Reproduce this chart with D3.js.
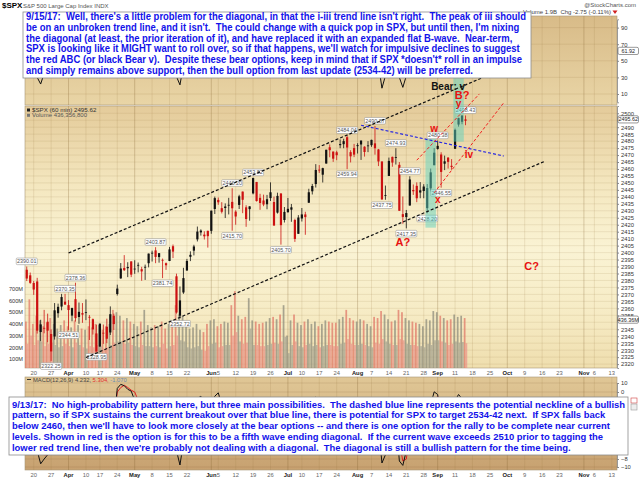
<!DOCTYPE html>
<html>
<head>
<meta charset="utf-8">
<script src="https://cdn.jsdelivr.net/npm/d3@7"></script>
<style>
body { margin: 0; background: #fff; }
svg { display: block; font-family: "Liberation Sans", Arial, sans-serif; }
</style>
</head>
<body>
<svg id="chart" width="640" height="479"></svg>
<script>
// ---- data: one candle per trading day, Mar 16 .. Sep 14 2017 ----
var opens = [
  2387.7,2383.7,2378.2,2379.3,2343.0,2345.9,2350.4,2329.1,2339.8,2356.5,2361.3,2364.8,
  2362.3,2354.8,2366.6,2353.8,2356.6,2357.2,2353.9,2352.2,2342.0,2332.6,2342.5,2346.8,2342.7,2354.7,2370.3,2381.5,2389.0,2389.7,2393.7,
  2388.5,2391.1,2386.5,2389.8,2392.4,2399.9,2401.6,2396.8,2394.8,2392.4,2394.0,2404.6,2383.0,2354.7,2371.4,2387.2,2397.0,2401.4,2409.5,2414.5,2411.7,2415.6,
  2415.6,2431.3,2437.8,2431.9,2432.0,2434.3,2436.4,2425.9,2434.2,2443.8,2424.1,2431.2,2442.5,2450.7,2439.3,2437.4,2434.7,2443.3,2436.3,2428.7,2442.4,2429.2,
  2431.4,2430.8,2423.4,2413.5,2424.5,2427.4,2435.8,2444.0,2449.2,2459.5,2455.9,2463.9,2475.6,2467.4,2472.0,2477.9,2480.0,2482.8,2469.1,2475.0,
  2477.1,2480.4,2476.0,2476.9,2477.1,2478.4,2465.4,2465.4,2441.0,2455.0,2468.7,2468.6,2463.0,2427.6,2425.5,2433.8,2444.9,2447.9,2444.7,2447.4,2431.9,2446.1,2462.7,
  2474.4,2470.4,2463.8,2468.1,2462.3,2474.5,2491.9,2493.9,2494.6
];
var highs = [
  2390.0,2385.7,2379.6,2381.9,2351.8,2358.9,2356.2,2344.9,2363.8,2363.4,2370.4,2370.4,
  2365.9,2360.5,2378.4,2364.2,2363.8,2366.4,2355.2,2352.7,2348.3,2349.1,2348.4,2352.6,2361.4,2356.2,2377.0,2392.5,2398.2,2393.1,2393.7,
  2394.5,2392.9,2389.8,2391.4,2399.3,2401.4,2403.9,2399.7,2395.7,2392.9,2404.1,2405.8,2384.9,2375.7,2389.1,2395.5,2400.9,2405.6,2418.7,2416.7,2415.3,2415.8,
  2430.1,2440.2,2439.5,2436.2,2435.3,2439.3,2446.2,2430.4,2441.5,2443.8,2434.0,2433.2,2453.8,2450.7,2442.2,2441.6,2441.4,2450.4,2440.2,2443.0,2442.7,2432.7,
  2439.2,2434.9,2424.3,2426.9,2432.0,2429.3,2445.8,2449.3,2463.5,2462.8,2460.9,2473.8,2477.6,2472.5,2473.1,2481.2,2481.7,2484.0,2473.5,2478.0,
  2478.5,2480.4,2476.3,2480.0,2481.0,2490.9,2474.4,2465.4,2448.1,2468.2,2468.9,2474.9,2465.0,2440.3,2430.6,2454.8,2448.9,2450.4,2450.6,2449.1,2449.2,2460.3,2475.0,
  2480.4,2472.0,2469.6,2468.6,2467.1,2489.0,2496.8,2498.4,2498.4
];
var lows = [
  2379.6,2377.6,2369.7,2341.9,2336.5,2342.1,2335.7,2322.3,2337.6,2353.3,2358.6,2362.6,
  2344.5,2350.7,2350.5,2348.9,2349.6,2351.5,2337.3,2341.2,2329.0,2332.5,2334.5,2335.1,2340.9,2344.5,2369.2,2381.2,2386.8,2382.4,2382.4,
  2384.8,2385.8,2379.8,2380.4,2389.4,2393.6,2392.4,2392.8,2381.7,2387.6,2393.9,2396.1,2356.2,2352.7,2370.4,2386.9,2393.9,2398.0,2408.0,2412.2,2409.4,2403.6,
  2413.5,2427.7,2434.3,2428.1,2424.8,2427.4,2415.7,2420.0,2431.3,2428.3,2418.5,2422.9,2441.8,2436.6,2430.7,2433.3,2431.1,2437.0,2419.4,2428.0,2405.7,2421.6,
  2428.7,2422.1,2407.7,2413.5,2422.3,2412.8,2435.6,2441.7,2446.7,2457.2,2450.3,2463.9,2468.4,2465.1,2466.3,2474.9,2474.9,2459.9,2464.7,2468.5,
  2471.1,2466.5,2468.9,2472.1,2475.9,2470.3,2462.1,2437.8,2437.9,2455.0,2461.6,2463.2,2430.0,2420.7,2417.4,2433.7,2441.4,2436.2,2439.0,2439.0,2428.2,2443.8,2462.7,
  2473.9,2446.6,2459.2,2460.3,2459.4,2474.5,2490.4,2492.1,2491.4
];
var closes = [
  2381.4,2378.3,2373.5,2344.0,2348.5,2346.0,2344.0,2341.6,2358.6,2361.1,2368.1,2362.7,
  2358.8,2360.2,2353.0,2357.5,2355.5,2357.2,2353.8,2344.9,2329.0,2349.0,2342.2,2338.2,2355.8,2348.7,2374.2,2388.6,2387.4,2388.8,2384.2,
  2388.3,2391.2,2388.1,2389.5,2399.3,2399.4,2396.9,2399.6,2394.4,2390.9,2402.3,2400.7,2357.0,2365.7,2381.7,2394.0,2398.4,2404.4,2415.1,2415.8,2412.9,2411.8,
  2430.1,2439.1,2436.1,2429.3,2433.1,2433.8,2431.8,2429.4,2440.4,2437.9,2432.5,2433.2,2453.5,2437.0,2435.6,2434.5,2438.3,2439.1,2419.4,2440.7,2419.7,2423.4,
  2429.0,2432.5,2409.8,2425.2,2427.4,2425.5,2443.3,2447.8,2459.3,2459.1,2460.6,2473.8,2473.5,2472.5,2469.9,2477.1,2477.8,2475.4,2472.1,2470.3,
  2476.4,2477.6,2472.2,2476.8,2480.9,2474.9,2474.0,2438.2,2441.3,2465.8,2464.6,2468.1,2430.0,2425.6,2428.4,2452.5,2444.0,2439.0,2443.1,2444.2,2446.3,2457.6,2471.7,
  2476.6,2457.9,2465.5,2465.1,2461.4,2488.1,2496.5,2498.4,2495.6
];
// hourly volume, millions: busiest hour and a quiet hour of each day
var volHi = [
  420,610,400,470,430,380,410,450,400,360,390,430,
  380,370,430,390,360,350,380,370,400,390,350,380,400,520,500,470,430,450,420,
  400,380,420,520,390,370,390,380,420,360,400,410,560,480,470,380,360,370,400,350,330,400,
  430,440,380,400,420,410,560,680,470,440,460,620,430,420,400,410,420,450,460,440,480,560,
  300,430,480,410,390,420,440,400,420,380,400,430,420,410,410,440,460,520,450,430,
  420,440,430,400,380,460,450,510,480,440,420,430,520,500,450,430,420,410,400,380,440,430,510,
  500,470,450,430,440,480,460,470,450
];
var volLo = [
  230,300,220,260,250,210,230,240,220,200,210,230,
  210,200,240,220,200,190,210,200,220,210,190,200,220,240,250,250,230,240,220,
  210,200,220,210,210,200,210,200,230,190,210,220,300,260,250,200,190,200,210,180,170,210,
  230,240,200,210,220,220,300,330,250,230,240,360,220,220,210,210,220,230,240,230,250,290,
  150,220,250,210,200,220,230,210,220,200,210,220,220,210,210,230,240,270,230,220,
  220,230,220,210,200,240,230,270,250,230,220,220,270,260,230,220,220,210,210,200,230,220,260,
  260,250,240,220,230,250,240,245,235
];
var rsi = [
  48,40,38,30,22,35,33,38,55,56,60,50,
  45,50,45,46,44,46,38,36,32,50,44,40,52,45,68,75,70,62,55,
  55,58,50,54,62,60,58,56,46,48,62,58,31,21,45,60,63,66,72,68,58,55,
  70,74,62,46,52,54,44,40,58,54,44,50,72,42,44,43,50,52,33,55,32,38,
  48,50,31,52,55,48,68,70,75,68,66,74,66,64,60,68,66,40,44,45,
  56,58,48,56,62,58,46,17,32,66,60,62,30,18,32,65,48,40,46,48,52,66,74,
  70,38,54,53,47,76,78,70,62
];
var macd = [
  -2,-3,-4,-7,-9.2,-8,-7.5,-6,-4,-3,-2,-2.5,
  -3,-3,-2.5,-3,-3,-3,-4,-4.5,-6,-5,-4.5,-4.5,-3,-3.5,4,8.5,7,3,1,
  -1,-1.5,-2,-2,-1,-1.5,-1.5,-2,-2.5,-2.5,-1.5,-2,-7,-9.5,-6,-3,-2,-1.5,-0.8,-0.5,-1.5,-2,
  -1.2,-0.5,-0.1,-1.5,-2,-2.5,-4,-4.5,-3,-3,-4,-3.5,-1,-3,-3.5,-3.5,-3,-3,-5,-4,-6,-5,
  -4,-4.5,-6.5,-5,-4,-4.5,-2,-1.2,-0.6,-1,-1.5,-0.8,-1,-1.5,-2,-1.2,-1.5,-3,-3.5,-3.5,
  -3,-3,-3.5,-3,-2.5,-3,-4,-9,-7.5,-3,-3.5,-3,-8.5,-9.6,-7,-3,-3.5,-4,-4,-4,-3.5,-1.5,0.2,
  -0.3,-3.5,-3,-3,-3.5,-1,-0.3,-0.8,-1.5
];
var signal = [
  -1.5,-2,-3,-4.5,-6.5,-7.5,-7.5,-7,-5.5,-4,-3,-2.5,
  -2.5,-3,-2.8,-2.9,-3,-3,-3.5,-4,-5,-5,-4.8,-4.6,-3.8,-3.6,0,5,7.5,5,2,
  0,-1,-1.6,-2,-1.6,-1.5,-1.5,-1.8,-2.2,-2.4,-2,-2,-4.5,-7.5,-7,-4.5,-3,-2,-1.5,-1,-1.2,-1.7,
  -1.5,-1,-0.6,-1,-1.6,-2.2,-3,-4,-3.5,-3.2,-3.5,-3.5,-2.2,-2.5,-3,-3.3,-3.2,-3.1,-4,-4,-5,-5,
  -4.5,-4.5,-5.5,-5.3,-4.6,-4.5,-3,-2,-1.2,-1.1,-1.3,-1,-1,-1.3,-1.7,-1.5,-1.5,-2.3,-3,-3.3,
  -3.2,-3.1,-3.3,-3.1,-2.8,-2.9,-3.5,-6.5,-7.5,-5,-4,-3.4,-6,-8.5,-8,-5,-4,-4,-4,-4,-3.7,-2.5,-1,
  -0.5,-2,-2.6,-2.8,-3.2,-2,-1,-0.9,-1.2
];

// axis ticks and labels
var holidays = ["2017-04-14", "2017-05-29", "2017-07-04", "2017-09-04"];
var tickDates = ["2017-03-20","2017-03-27","2017-04-03","2017-04-10","2017-04-17","2017-04-24","2017-05-01",
  "2017-05-08","2017-05-15","2017-05-22","2017-06-01","2017-06-05","2017-06-12","2017-06-19","2017-06-26",
  "2017-07-03","2017-07-10","2017-07-17","2017-07-24","2017-08-01","2017-08-07","2017-08-14","2017-08-21",
  "2017-08-28","2017-09-01","2017-09-11","2017-09-18","2017-09-25","2017-10-02","2017-10-09","2017-10-16",
  "2017-10-23","2017-11-01","2017-11-06","2017-11-13"];
// 2350 and 2495 sit under the value tags, so they carry no label
var priceTicks = [2320,2325,2330,2335,2340,2345,2355,2360,2365,2370,2375,2380,2385,2390,2395,
  2400,2405,2410,2415,2420,2425,2430,2435,2440,2445,2450,2455,2460,2465,2470,2475,2480,2485,2490,2500];
var priceGrid = [2320,2325,2330,2335,2340,2345,2350,2355,2360,2365,2370,2375,2380,2385,2390,2395,
  2400,2405,2410,2415,2420,2425,2430,2435,2440,2445,2450,2455,2460,2465,2470,2475,2480,2485,2490,2495,2500];
var volTicks = [100, 200, 300, 400, 500, 600, 700];
var rsiTicks = [10, 30, 50, 70, 90];
var macdTicks = [10, 0, -8, -10];

// price tags on swing highs / lows
var tagDates = ["2017-03-16","2017-03-27","2017-03-31","2017-04-03","2017-04-05","2017-04-13","2017-05-09","2017-05-11",
  "2017-05-18","2017-06-09","2017-06-09","2017-06-19","2017-06-29","2017-07-27","2017-07-27","2017-08-08","2017-08-10",
  "2017-08-16","2017-08-21","2017-08-22","2017-08-29","2017-09-01","2017-09-05","2017-09-14"];
var tagValues = [2390.01,2322.25,2370.35,2344.51,2378.36,2328.95,2403.87,2381.74,2352.72,2446.20,2415.70,2453.82,
  2405.70,2484.04,2459.94,2490.87,2437.75,2474.93,2417.35,2454.77,2428.20,2480.38,2446.55,2498.43];
var tagSides = ["hi","lo","hi","lo","hi","lo","hi","lo","lo","hi","lo","hi","lo","hi","lo","hi","lo","hi","lo","hi","lo","hi","lo","hi"];

// hand drawn trend lines (date, price at each end)
var channelTopDates = ["2017-04-03", "2017-09-22"], channelTopPrices = [2399.7, 2526.7];
var channelBotDates = ["2017-04-10", "2017-10-17"], channelBotPrices = [2324.7, 2465.8];
var necklineDates = ["2017-08-02", "2017-09-29"], necklinePrices = [2491.4, 2469.3];
var redTopDates = ["2017-08-24", "2017-09-20"], redTopPrices = [2466.3, 2513.9];
var redBotDates = ["2017-08-31", "2017-09-29"], redBotPrices = [2442.9, 2507.6];

// highlighted waves
var tealStart = ["2017-08-29", "2017-09-11"], tealEnd = ["2017-08-31", "2017-09-13"];
var tealTop = [2481.6, 2527.5], tealBottom = [2417.9, 2479.6];

// wave labels
var waveText = ["Bear: v", "B?", "y", "w", "x", "iv", "A?", "C?"];
var waveDates = ["2017-09-07", "2017-09-13", "2017-09-12", "2017-08-31", "2017-09-01", "2017-09-15", "2017-08-18", "2017-10-11"];
var wavePrices = [2519.6, 2513.0, 2507.2, 2489.4, 2438.5, 2470.3, 2407.6, 2390.4];
var waveColors = ["#111", "#e81010", "#e81010", "#e81010", "#e81010", "#e81010", "#e81010", "#e81010"];

var noteTop = [
  "9/15/17:  Well, there's a little problem for the diagonal, in that the i-iii trend line isn't right.  The peak of iii should",
  "be on an unbroken trend line, and it isn't.  The could change with a quick pop in SPX, but until then, I'm nixing",
  "the diagonal (at least, the prior iteration of it), and have replaced it with an expanded flat B-wave.  Near-term,",
  "SPX is looking like it MIGHT want to roll over, so if that happens, we'll watch for impulsive declines to suggest",
  "the red ABC (or black Bear v).  Despite these bear options, keep in mind that if SPX *doesn't* roll in an impulse",
  "and simply remains above support, then the bull option from last update (2534-42) will be preferred."
];
var noteBottom = [
  "9/13/17:  No high-probability pattern here, but three main possibilities.  The dashed blue line represents the potential neckline of a bullish",
  "pattern, so if SPX sustains the current breakout over that blue line, there is potential for SPX to target 2534-42 next.  If SPX falls back",
  "below 2460, then we'll have to look more closely at the bear options -- and there is one option for the rally to be complete near current",
  "levels. Shown in red is the option is for this to be a fifth wave ending diagonal.  If the current wave exceeds 2510 prior to tagging the",
  "lower red trend line, then we're probably not dealing with a diagonal.  The diagonal is still a bullish pattern for the time being."
];

// ---- layout ----
var plotL = 25, plotR = 617;
var rsiTop = 16, rsiBot = 105;
var priceTop = 106, priceBot = 368;
var macdTop = 377, macdBot = 470;

var svg = d3.select("#chart");
var parse = d3.timeParse("%Y-%m-%d"), fmt = d3.timeFormat("%Y-%m-%d");

// trading days on the axis (weekends and holidays skipped)
var days = d3.timeDay.range(parse("2017-03-16"), parse("2017-11-15"))
  .filter(function(d) { return d.getDay() > 0 && d.getDay() < 6 && holidays.indexOf(fmt(d)) < 0; })
  .map(fmt);
var dataDays = days.slice(0, closes.length);

var x = d3.scaleBand().domain(days).range([plotL, plotR]);
var bw = x.bandwidth();
function xc(d) { return x(d) + bw / 2; }
function isMonthStart(d) {
  var i = days.indexOf(d);
  return i <= 0 || days[i - 1].slice(5, 7) !== d.slice(5, 7);
}

var yPrice = d3.scaleLinear().domain([2317.2, 2505.2]).range([priceBot, priceTop]);
var yVol = d3.scaleLinear().domain([0, 700]).range([370.7, 288.8]);
var yRsi = d3.scaleLinear().domain([0, 100]).range([102.3, 19.3]);
var yMacd = d3.scaleLinear().domain([-10, -8, 0, 10]).range([467, 459, 392, 383]);

// gradients and clips
var defs = svg.append("defs");
function gradient(id, stops) {
  var g = defs.append("linearGradient").attr("id", id).attr("x1", 0).attr("y1", 0).attr("x2", 0).attr("y2", 1);
  stops.forEach(function(s) { g.append("stop").attr("offset", s[0]).attr("stop-color", s[1]); });
}
gradient("gRsi", [[0, "#d8bb88"], [1, "#e9d5a6"]]);
gradient("gPrice", [[0, "#e4cb9a"], [0.3, "#f4e7bf"], [0.55, "#faf3d4"], [0.8, "#f6ebc4"], [1, "#efdeae"]]);
gradient("gMacd", [[0, "#e0c796"], [1, "#c7a170"]]);

function clip(id, top, bot) {
  defs.append("clipPath").attr("id", id).append("rect")
    .attr("x", plotL).attr("y", top).attr("width", plotR - plotL).attr("height", bot - top);
}
clip("clipRsi", rsiTop, rsiBot);
clip("clipPrice", priceTop, priceBot);
clip("clipMacd", macdTop, macdBot);

// panel backgrounds
[[rsiTop, rsiBot, "gRsi"], [priceTop, priceBot, "gPrice"], [macdTop, macdBot, "gMacd"]].forEach(function(p) {
  svg.append("rect")
    .attr("x", plotL).attr("y", p[0]).attr("width", plotR - plotL).attr("height", p[1] - p[0])
    .style("fill", "url(#" + p[2] + ")")
    .style("stroke", "#a89878").style("stroke-width", 0.6);
});

// vertical grid (weekly, darker at month starts)
[[rsiTop, rsiBot], [priceTop, priceBot], [macdTop, macdBot]].forEach(function(p) {
  svg.append("g").selectAll("line").data(tickDates).enter().append("line")
    .attr("x1", xc).attr("x2", xc).attr("y1", p[0]).attr("y2", p[1])
    .style("stroke", function(d) { return isMonthStart(d) ? "rgba(125,90,40,0.45)" : "rgba(150,115,60,0.25)"; })
    .style("stroke-width", 0.6);
});

// horizontal grid
svg.append("g").selectAll("line").data(priceGrid).enter().append("line")
  .attr("x1", plotL).attr("x2", plotR).attr("y1", yPrice).attr("y2", yPrice)
  .style("stroke", "rgba(150,115,60,0.22)").style("stroke-width", 0.6);
svg.append("g").selectAll("line").data(rsiTicks).enter().append("line")
  .attr("x1", plotL).attr("x2", plotR).attr("y1", yRsi).attr("y2", yRsi)
  .style("stroke", "rgba(150,115,60,0.25)").style("stroke-width", 0.6);
svg.append("g").selectAll("line").data(macdTicks).enter().append("line")
  .attr("x1", plotL).attr("x2", plotR).attr("y1", yMacd).attr("y2", yMacd)
  .style("stroke", "rgba(120,85,40,0.25)").style("stroke-width", 0.6);

function isUp(i) { return closes[i] >= (i > 0 ? closes[i - 1] : opens[i]); }

// volume bars, behind the candles
var volG = svg.append("g").attr("clip-path", "url(#clipPrice)");
volG.selectAll(".vol-hi").data(dataDays).enter().append("rect")
  .attr("x", function(d) { return x(d); })
  .attr("width", bw / 2)
  .attr("y", function(d, i) { return yVol(volHi[i]); })
  .attr("height", function(d, i) { return yVol(0) - yVol(volHi[i]); })
  .style("fill", function(d, i) { return isUp(i) ? "#8d8c7c" : "#e07868"; })
  .style("opacity", 0.75);
volG.selectAll(".vol-lo").data(dataDays).enter().append("rect")
  .attr("x", function(d) { return x(d) + bw / 2; })
  .attr("width", bw / 2)
  .attr("y", function(d, i) { return yVol(volLo[i]); })
  .attr("height", function(d, i) { return yVol(0) - yVol(volLo[i]); })
  .style("fill", function(d, i) { return isUp(i) ? "#a3a190" : "#e8928a"; })
  .style("opacity", 0.7);

// RSI line (mostly behind the note box)
svg.append("path").datum(dataDays)
  .attr("clip-path", "url(#clipRsi)")
  .attr("d", d3.line().x(xc).y(function(d, i) { return yRsi(rsi[i]); }))
  .style("fill", "none").style("stroke", "#111").style("stroke-width", 1);

// candles
var candles = svg.append("g").attr("clip-path", "url(#clipPrice)");
candles.selectAll(".wick").data(dataDays).enter().append("line")
  .attr("x1", xc).attr("x2", xc)
  .attr("y1", function(d, i) { return yPrice(highs[i]); })
  .attr("y2", function(d, i) { return yPrice(lows[i]); })
  .style("stroke", function(d, i) { return isUp(i) ? "#111" : "#cc1111"; })
  .style("stroke-width", 0.8);
candles.selectAll(".body").data(dataDays).enter().append("rect")
  .attr("x", function(d) { return xc(d) - 1.1; })
  .attr("width", 2.2)
  .attr("y", function(d, i) { return yPrice(Math.max(opens[i], closes[i])); })
  .attr("height", function(d, i) { return Math.max(0.8, Math.abs(yPrice(opens[i]) - yPrice(closes[i]))); })
  .style("fill", function(d, i) { return isUp(i) ? "#111" : "#cc1111"; });

// swing value tags
var tags = svg.append("g").selectAll("g").data(tagDates).enter().append("g")
  .attr("transform", function(d, i) {
    var ty = yPrice(tagValues[i]) + (tagSides[i] === "hi" ? -5.2 : 5.2);
    return "translate(" + xc(d) + "," + ty + ")";
  });
tags.append("rect")
  .attr("x", -10.5).attr("y", -3.3).attr("width", 21).attr("height", 6.6).attr("rx", 1)
  .style("fill", "#fff").style("stroke", "#8a8a8a").style("stroke-width", 0.5);
tags.append("text")
  .attr("y", 2).attr("text-anchor", "middle")
  .style("font-size", "5.4px").style("fill", "#555")
  .text(function(d, i) { return tagValues[i].toFixed(2); });

// teal wave highlights
svg.append("g").selectAll("rect").data(tealStart).enter().append("rect")
  .attr("x", function(d) { return x(d); })
  .attr("width", function(d, i) { return x(tealEnd[i]) + bw - x(d); })
  .attr("y", function(d, i) { return yPrice(tealTop[i]); })
  .attr("height", function(d, i) { return yPrice(tealBottom[i]) - yPrice(tealTop[i]); })
  .style("fill", "rgb(95,210,190)").style("opacity", 0.5);

// trend lines
function trend(dates, prices, color, width) {
  svg.append("line")
    .attr("x1", xc(dates[0])).attr("y1", yPrice(prices[0]))
    .attr("x2", xc(dates[1])).attr("y2", yPrice(prices[1]))
    .style("stroke", color).style("stroke-width", width).style("stroke-dasharray", "3,2");
}
trend(channelTopDates, channelTopPrices, "#111", 1.2);
trend(channelBotDates, channelBotPrices, "#111", 1.2);
trend(necklineDates, necklinePrices, "#2a2ae0", 1.2);
trend(redTopDates, redTopPrices, "#f02020", 1);
trend(redBotDates, redBotPrices, "#f02020", 1);

// wave labels
svg.append("g").selectAll("text").data(waveText).enter().append("text")
  .attr("x", function(d, i) { return xc(waveDates[i]); })
  .attr("y", function(d, i) { return yPrice(wavePrices[i]) + 3.6; })
  .attr("text-anchor", "middle")
  .style("font-size", function(d) { return d.length === 2 && d !== "iv" ? "11px" : "10px"; })
  .style("font-weight", "bold")
  .style("fill", function(d, i) { return waveColors[i]; })
  .text(function(d) { return d; });

// axes
function styleAxis(g, size) {
  g.selectAll("text").style("font-size", size).style("fill", "#333").style("font-family", "'Liberation Sans', Arial, sans-serif");
  g.selectAll(".tick line").style("stroke", "#888");
  g.select(".domain").style("stroke", "#999");
}
svg.append("g").attr("transform", "translate(" + plotR + ",0)")
  .call(d3.axisRight(yPrice).tickValues(priceTicks).tickSize(2).tickPadding(2).tickFormat(d3.format("d")))
  .call(styleAxis, "5.8px");
svg.append("g").attr("transform", "translate(" + plotR + ",0)")
  .call(d3.axisRight(yRsi).tickValues(rsiTicks).tickSize(2).tickPadding(2))
  .call(styleAxis, "5.8px");
svg.append("g").attr("transform", "translate(" + plotR + ",0)")
  .call(d3.axisRight(yMacd).tickValues(macdTicks).tickSize(2).tickPadding(2))
  .call(styleAxis, "5.8px");
var volAxis = svg.append("g").attr("transform", "translate(" + plotL + ",0)")
  .call(d3.axisLeft(yVol).tickValues(volTicks).tickSize(0).tickPadding(2).tickFormat(function(d) { return d + "M"; }))
  .call(styleAxis, "5.6px");
volAxis.select(".domain").remove();

function dateAxis(y) {
  var g = svg.append("g").attr("transform", "translate(0," + y + ")")
    .call(d3.axisBottom(x).tickValues(tickDates).tickSize(0).tickPadding(3)
      .tickFormat(function(d) { return isMonthStart(d) ? d3.timeFormat("%b")(parse(d)) : +d.slice(8); }))
    .call(styleAxis, "5.8px");
  g.select(".domain").remove();
  g.selectAll(".tick text")
    .style("font-weight", function(d) { return isMonthStart(d) ? "bold" : "normal"; })
    .style("fill", function(d) { return isMonthStart(d) ? "#222" : "#666"; });
}
dateAxis(priceBot);
dateAxis(macdBot);

// MACD lines
var macdG = svg.append("g").attr("clip-path", "url(#clipMacd)");
macdG.append("path").datum(dataDays)
  .attr("d", d3.line().x(xc).y(function(d, i) { return yMacd(signal[i]); }))
  .style("fill", "none").style("stroke", "#e02020").style("stroke-width", 1);
macdG.append("path").datum(dataDays)
  .attr("d", d3.line().x(xc).y(function(d, i) { return yMacd(macd[i]); }))
  .style("fill", "none").style("stroke", "#111").style("stroke-width", 1);

// value tags on the right axis
function sideTag(y, label) {
  var g = svg.append("g").attr("transform", "translate(" + (plotR + 1) + "," + y + ")");
  g.append("rect").attr("x", 0).attr("y", -3.6).attr("width", 20.5).attr("height", 7.2).attr("rx", 1.5)
    .style("fill", "#fff").style("stroke", "#555").style("stroke-width", 0.6);
  g.append("text").attr("x", 10.2).attr("y", 2).attr("text-anchor", "middle")
    .style("font-size", "5.4px").style("fill", "#222").text(label);
}
sideTag(yPrice(2495.62), "2495.62");
sideTag(yRsi(61.92), "61.92");
sideTag(yVol(436.36), "436.36M");

// legends
svg.append("rect").attr("x", 27).attr("y", 108.5).attr("width", 3).attr("height", 3).style("fill", "#222");
svg.append("text").attr("x", 32).attr("y", 112.2).style("font-size", "6.2px").style("fill", "#333")
  .text("$SPX (60 min) 2495.62");
svg.append("rect").attr("x", 27).attr("y", 113.8).attr("width", 3).attr("height", 3).style("fill", "#777");
svg.append("text").attr("x", 32).attr("y", 117.4).style("font-size", "6px").style("fill", "#555")
  .text("Volume 436,356,800");

svg.append("line").attr("x1", 27).attr("x2", 31).attr("y1", 379.5).attr("y2", 379.5).style("stroke", "#333");
var macdLeg = svg.append("text").attr("x", 33).attr("y", 381.5).style("font-size", "5.8px").style("white-space", "pre");
macdLeg.append("tspan").style("fill", "#444").text("MACD(12,26,9) 4.232, ");
macdLeg.append("tspan").style("fill", "#e03030").text("5.304, ");
macdLeg.append("tspan").style("fill", "#6a8ab0").text("-1.070");

// header
svg.append("text").attr("x", 2).attr("y", 8).style("font-size", "8px").style("font-weight", "bold").text("$SPX");
svg.append("text").attr("x", 23).attr("y", 8).style("font-size", "6px").style("fill", "#555")
  .text("S&P 500 Large Cap Index  INDX");
svg.append("text").attr("x", 636).attr("y", 7).attr("text-anchor", "end").style("font-size", "6px").style("fill", "#555")
  .text("@StockCharts.com");
svg.append("text").attr("x", 611).attr("y", 14).attr("text-anchor", "end").style("font-size", "6px").style("fill", "#444")
  .style("white-space", "pre")
  .text("Volume 1.9B  Chg -2.75 (-0.11%)");
svg.append("path").attr("d", "M612.5,10.5 L617.5,10.5 L615,14 Z").style("fill", "#d02020");

// note boxes laid over the chart
function noteBox(x0, y0, w, h, lines, fontSize, firstBase, step, targetWidth) {
  svg.append("rect").attr("x", x0).attr("y", y0).attr("width", w).attr("height", h)
    .style("fill", "#fff").style("stroke", "#8c8c8c").style("stroke-width", 0.8);
  var texts = svg.append("g").selectAll("text").data(lines).enter().append("text")
    .attr("x", x0 + 3)
    .attr("y", function(d, i) { return firstBase + i * step; })
    .style("font-size", fontSize + "px").style("font-weight", "bold")
    .style("fill", "#1212ea").style("white-space", "pre")
    .text(function(d) { return d; });
  var first = texts.node().getComputedTextLength();
  var k = targetWidth / first;
  texts.each(function() {
    var len = this.getComputedTextLength();
    d3.select(this).attr("textLength", len * k).attr("lengthAdjust", "spacingAndGlyphs");
  });
}
noteBox(23, 12, 508, 66, noteTop, 10, 19.6, 10.95, 500);
noteBox(9, 397, 619, 58, noteBottom, 9.6, 407.5, 10.9, 613);

// small scroll icons right of the lower box
svg.append("rect").attr("x", 631).attr("y", 398).attr("width", 6).attr("height", 5)
  .style("fill", "#fff").style("stroke", "#d04040").style("stroke-width", 0.6);
svg.append("rect").attr("x", 631).attr("y", 404).attr("width", 6).attr("height", 6)
  .style("fill", "#eee").style("stroke", "#999").style("stroke-width", 0.6);
</script>
</body>
</html>
